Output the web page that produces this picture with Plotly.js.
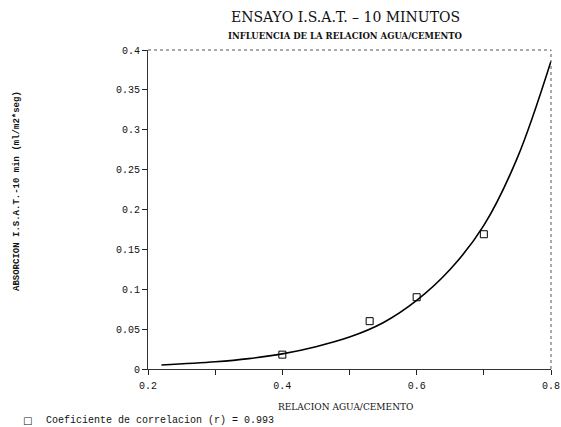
<!DOCTYPE html>
<html>
<head>
<meta charset="utf-8">
<script src="https://cdn.plot.ly/plotly-3.0.1.min.js"></script>
<style>html,body{margin:0;padding:0;background:#fff;}#chart{width:561px;height:427px;}</style>
</head>
<body>
<div id="chart"></div>
<script>
// Measured data points (relacion agua/cemento vs absorcion)
var pointX = [0.4, 0.53, 0.6, 0.7];
var pointY = [0.018, 0.060, 0.090, 0.169];
// Fitted curve
var curveX = [0.22, 0.3, 0.35, 0.4, 0.45, 0.5, 0.55, 0.6, 0.65, 0.7, 0.75, 0.8];
var curveY = [0.005, 0.009, 0.013, 0.019, 0.028, 0.040, 0.058, 0.086, 0.125, 0.180, 0.265, 0.386];
var xTicks = [0.2, 0.4, 0.6, 0.8];
var xMinor = [0.3, 0.5, 0.7];
var yTicks = [0, 0.05, 0.1, 0.15, 0.2, 0.25, 0.3, 0.35, 0.4];
var legendText = "Coeficiente de correlacion (r) = 0.993";

var mono = "Liberation Mono, DejaVu Sans Mono, monospace";
var tickFont = {family: mono, size: 10, color: "#111"};
var serif = "DejaVu Serif, Liberation Serif, serif";

var traces = [
  {x: curveX, y: curveY, type: "scatter", mode: "lines", line: {color: "#000", width: 1.6, shape: "spline"}, showlegend: false, hoverinfo: "skip"},
  {x: pointX, y: pointY, type: "scatter", mode: "markers", name: legendText, showlegend: false,
   marker: {symbol: "square-open", size: 7, color: "#000", line: {width: 1, color: "#000"}}}
];

var layout = {
  width: 561, height: 427,
  margin: {l: 148, r: 10, t: 50, b: 58},
  paper_bgcolor: "#fff", plot_bgcolor: "#fff",
  showlegend: false,
  xaxis: {
    range: [0.2, 0.8], tickvals: xTicks, ticktext: xTicks.map(function(v){return v.toFixed(1);}),
    ticks: "outside", ticklen: 5, tickcolor: "#222", tickwidth: 1, ticklabelstandoff: 2,
    minor: {tickvals: xMinor, ticks: "outside", ticklen: 5, tickcolor: "#222"},
    showline: true, linecolor: "#333", linewidth: 1, mirror: false,
    showgrid: false, zeroline: false, tickfont: tickFont
  },
  yaxis: {
    range: [0, 0.4], tickvals: yTicks, ticktext: yTicks.map(function(v){return String(v);}),
    ticks: "outside", ticklen: 5, tickcolor: "#222", tickwidth: 1,
    showline: true, linecolor: "#333", linewidth: 1, mirror: false,
    showgrid: false, zeroline: false, tickfont: tickFont
  },
  shapes: [
    {type: "line", xref: "paper", yref: "paper", x0: 0, x1: 1, y0: 1, y1: 1, line: {color: "#555", width: 1, dash: "dot"}},
    {type: "line", xref: "paper", yref: "paper", x0: 1, x1: 1, y0: 0, y1: 1, line: {color: "#555", width: 1, dash: "dot"}}
  ],
  annotations: [
    {text: "ENSAYO I.S.A.T. \u2013 10 MINUTOS", xref: "paper", yref: "paper", x: 0.489, y: 1.103, xanchor: "center", yanchor: "middle", showarrow: false, font: {family: serif, size: 14, color: "#111"}},
    {text: "<b>INFLUENCIA DE LA RELACION AGUA/CEMENTO</b>", xref: "paper", yref: "paper", x: 0.489, y: 1.044, xanchor: "center", yanchor: "middle", showarrow: false, font: {family: serif, size: 8.5, color: "#111"}},
    {text: "<b>ABSORCION I.S.A.T.-10 min (ml/m2*seg)</b>", xref: "paper", yref: "paper", x: -0.325, y: 0.558, xanchor: "center", yanchor: "middle", textangle: -90, showarrow: false, font: {family: mono, size: 9, color: "#111"}},
    {text: "RELACION AGUA/CEMENTO", xref: "paper", yref: "paper", x: 0.489, y: -0.119, xanchor: "center", yanchor: "middle", showarrow: false, font: {family: serif, size: 9, color: "#111"}},
    {text: "\u25A1", xref: "paper", yref: "paper", x: -0.300, y: -0.160, xanchor: "center", yanchor: "middle", showarrow: false, font: {family: "DejaVu Sans, sans-serif", size: 10, color: "#111"}},
    {text: legendText, xref: "paper", yref: "paper", x: -0.258, y: -0.160, xanchor: "left", yanchor: "middle", showarrow: false, font: {family: mono, size: 10, color: "#111"}}
  ]
};

Plotly.newPlot("chart", traces, layout, {displayModeBar: false, staticPlot: true});
</script>
</body>
</html>
